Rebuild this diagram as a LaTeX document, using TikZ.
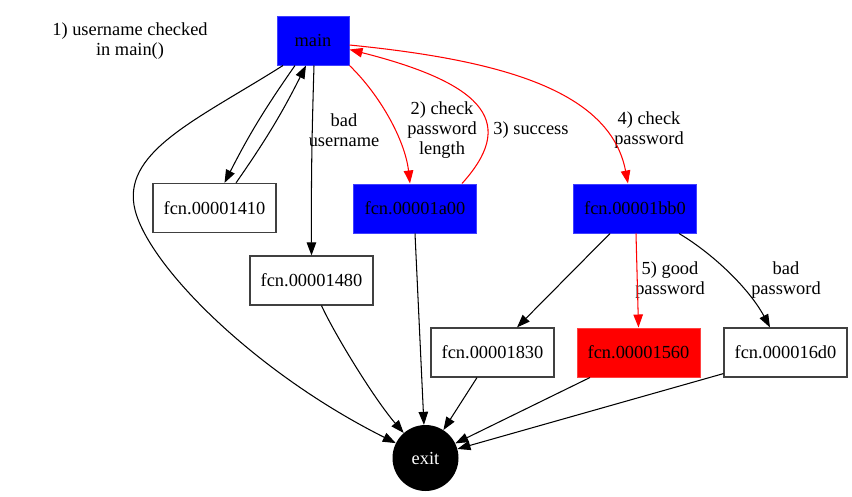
\documentclass[tikz,border=0pt]{standalone}
\usepackage{fontspec}
\setmainfont{Liberation Serif}
\usetikzlibrary{arrows.meta}
\begin{document}
\begin{tikzpicture}[x=1pt,y=-1pt,
  every node/.style={font=\fontsize{18.4}{20}\selectfont},
  box/.style={rectangle, draw=black!75, line width=1.2pt, fill=white, minimum width=123pt, minimum height=49pt, inner sep=0pt},
  bluebox/.style={box, fill=blue, draw=blue!75!white, line width=1pt},
  redbox/.style={box, fill=red, draw=red!75!white, line width=1pt},
  lbl/.style={align=center, inner sep=1pt},
  arr/.style={line width=1.05pt, -{Triangle[length=13pt,width=9.5pt]}},
  rarr/.style={arr, draw=red, -{Triangle[length=13pt,width=9.5pt,fill=red]}, red},
]
\useasboundingbox (0,0) rectangle (852,496);

\node[bluebox, minimum width=72pt] (main) at (313,40.5) {main};
\node[box] (n1410) at (214.5,208) {fcn.00001410};
\node[bluebox] (n1a00) at (415,208.5) {fcn.00001a00};
\node[bluebox] (nbb0) at (635,208.5) {fcn.00001bb0};
\node[box] (n1480) at (311.5,280.5) {fcn.00001480};
\node[box] (n1830) at (492.5,352.5) {fcn.00001830};
\node[redbox] (n1560) at (638.5,352.5) {fcn.00001560};
\node[box] (n16d0) at (785.5,352.5) {fcn.000016d0};
\node[circle, fill=black, text=white, minimum size=66pt, inner sep=0pt] (exit) at (425.5,458) {exit};

\node[lbl] (note) at (130,41) {1) username checked\\in main()};
\node[lbl] (lbad) at (344,130) {bad\\username};
\node[lbl] (lchk) at (442,130) {2) check\\password\\length};
\node[lbl] (lsuc) at (531,130) {3) success};
\node[lbl] (lchk2) at (649,130) {4) check\\password};
\node[lbl] (lgood) at (670,280) {5) good\\password};
\node[lbl] (lbadp) at (786,280) {bad\\password};

% main -> exit (wide curve on the left)
\draw[arr] ([xshift=-30pt]main.south) .. controls (200,118) and (125,150) .. (134,205)
  .. controls (143,260) and (250,370) .. (exit);
% main <-> 1410
\draw[arr] ([xshift=-18pt]main.south) to[bend right=4] ([xshift=10pt]n1410.north);
\draw[arr] ([xshift=21.5pt]n1410.north) to[bend right=4] ([xshift=-7pt]main.south);
% main -> 1480
\draw[arr] ([xshift=1pt]main.south) to[bend right=1] (n1480.north);
% main -> 1a00
\draw[rarr] (main.south east) .. controls (380,95) and (405,140) .. ([xshift=-5pt]n1a00.north);
% 1a00 -> main
\draw[rarr] ([xshift=47pt]n1a00.north) .. controls (515,125) and (490,85) .. ([yshift=-9pt]main.east);
% main -> bb0
\draw[rarr] ([yshift=-4.5pt]main.east) .. controls (500,60) and (610,90) .. ([xshift=-7pt]nbb0.north);
% 1a00 -> exit
\draw[arr] (n1a00.south) -- (exit);
% 1480 -> exit
\draw[arr] ([xshift=10pt]n1480.south) .. controls (335,335) and (375,400) .. (exit);
% bb0 -> 1830, 1560, 16d0
\draw[arr] ([xshift=-25pt]nbb0.south) -- ([xshift=24.5pt]n1830.north);
\draw[rarr] ([xshift=1pt]nbb0.south) -- (n1560.north);
\draw[arr] ([xshift=44pt]nbb0.south) .. controls (715,255) and (750,290) .. ([xshift=-15.5pt]n16d0.north);
% bottom row -> exit
\draw[arr] ([xshift=-15.5pt]n1830.south) -- (exit);
\draw[arr] ([xshift=-48.5pt]n1560.south) -- (exit);
\draw[arr] ([yshift=4pt]n16d0.south west) -- (exit);
\end{tikzpicture}
\end{document}
